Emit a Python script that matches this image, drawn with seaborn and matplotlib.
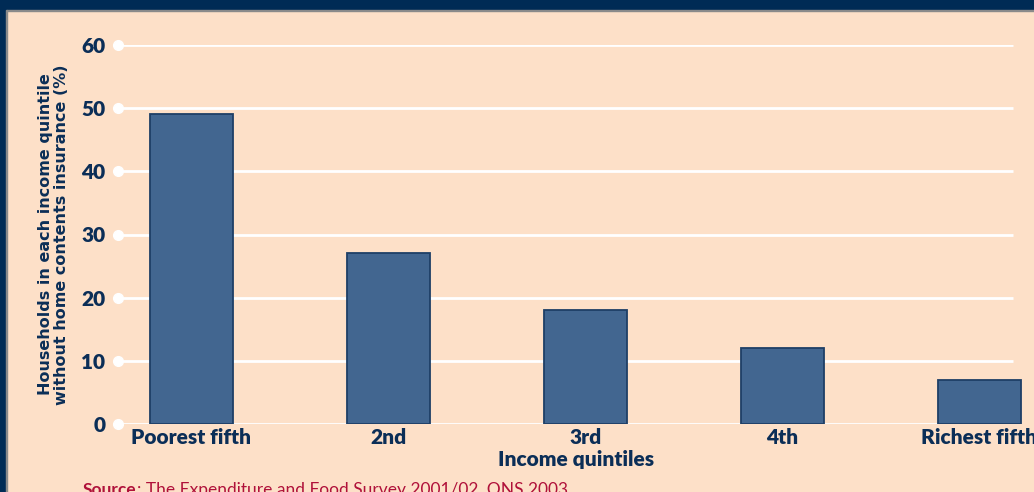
import seaborn as sns
import matplotlib.pyplot as plt
from matplotlib.patches import Rectangle

categories = ["Poorest fifth", "2nd", "3rd", "4th", "Richest fifth"]
values = [49, 27, 18, 12, 7]
yticks = [0, 10, 20, 30, 40, 50, 60]

peach = "#FDE0C8"
navy = "#0B2E57"
bar_col = "#426690"
bar_edge = "#1E3F66"
red = "#B0113A"

sns.set_style("white")
plt.rcParams["font.family"] = ["Lato", "DejaVu Sans"]

fig = plt.figure(figsize=(10.34, 4.92), dpi=100)
fig.patch.set_facecolor(peach)
ax = fig.add_axes([118/1034, 1 - 424/492, 1 - 118/1034, (424 - 45)/492])
ax.set_facecolor(peach)

x0, x1, xg = -0.373, 4.277, 4.17

# grid lines and white dots at ticks
ax.hlines(yticks, x0, xg, color="white", lw=2, zorder=0)
ax.plot([x0] * len(yticks), yticks, "o", color="white", ms=7, clip_on=False, zorder=3)

sns.barplot(x=categories, y=values, width=0.42, color=bar_col, saturation=1,
            edgecolor=bar_edge, linewidth=1.3, ax=ax, zorder=2)

ax.set_xlim(x0, x1)
ax.set_ylim(0, 60)
ax.set_yticks(yticks)
for s in ax.spines.values():
    s.set_visible(False)
ax.tick_params(axis="y", length=0, pad=9, labelsize=15, labelcolor=navy)
ax.tick_params(axis="x", length=0, pad=3, labelsize=15, labelcolor=navy)
for lab in ax.get_xticklabels() + ax.get_yticklabels():
    lab.set_fontweight("heavy")

ax.set_xlabel("Income quintiles", fontsize=15, fontweight="heavy", color=navy, labelpad=2)
ax.set_ylabel("Households in each income quintile\nwithout home contents insurance (%)",
              fontsize=11.5, fontweight="bold", color=navy, labelpad=9,
              linespacing=1.1, fontfamily="DejaVu Sans")

# frame: top band and left border
fig.patches.append(Rectangle((0, 1 - 10/492), 1, 10/492, transform=fig.transFigure,
                             color="#002B55", zorder=10))
fig.patches.append(Rectangle((0, 1 - 11/492), 1, 1/492, transform=fig.transFigure,
                             color="#8A8A8A", zorder=10))
fig.patches.append(Rectangle((0, 0), 6/1034, 1, transform=fig.transFigure,
                             color="#002B55", zorder=10))
fig.patches.append(Rectangle((6/1034, 0), 1/1034, 1 - 10/492, transform=fig.transFigure,
                             color="#8A8A8A", zorder=10))

src = fig.text(83/1034, 1 - 482/492, "Source", color=red, fontsize=12.5,
               fontweight="bold", va="top")
fig.canvas.draw()
bb = src.get_window_extent()
fig.text(bb.x1 / 1034, 1 - 482/492, ": The Expenditure and Food Survey 2001/02, ONS 2003",
         color=red, fontsize=12.5, va="top")

fig.savefig("out.png", dpi=100, facecolor=peach)
